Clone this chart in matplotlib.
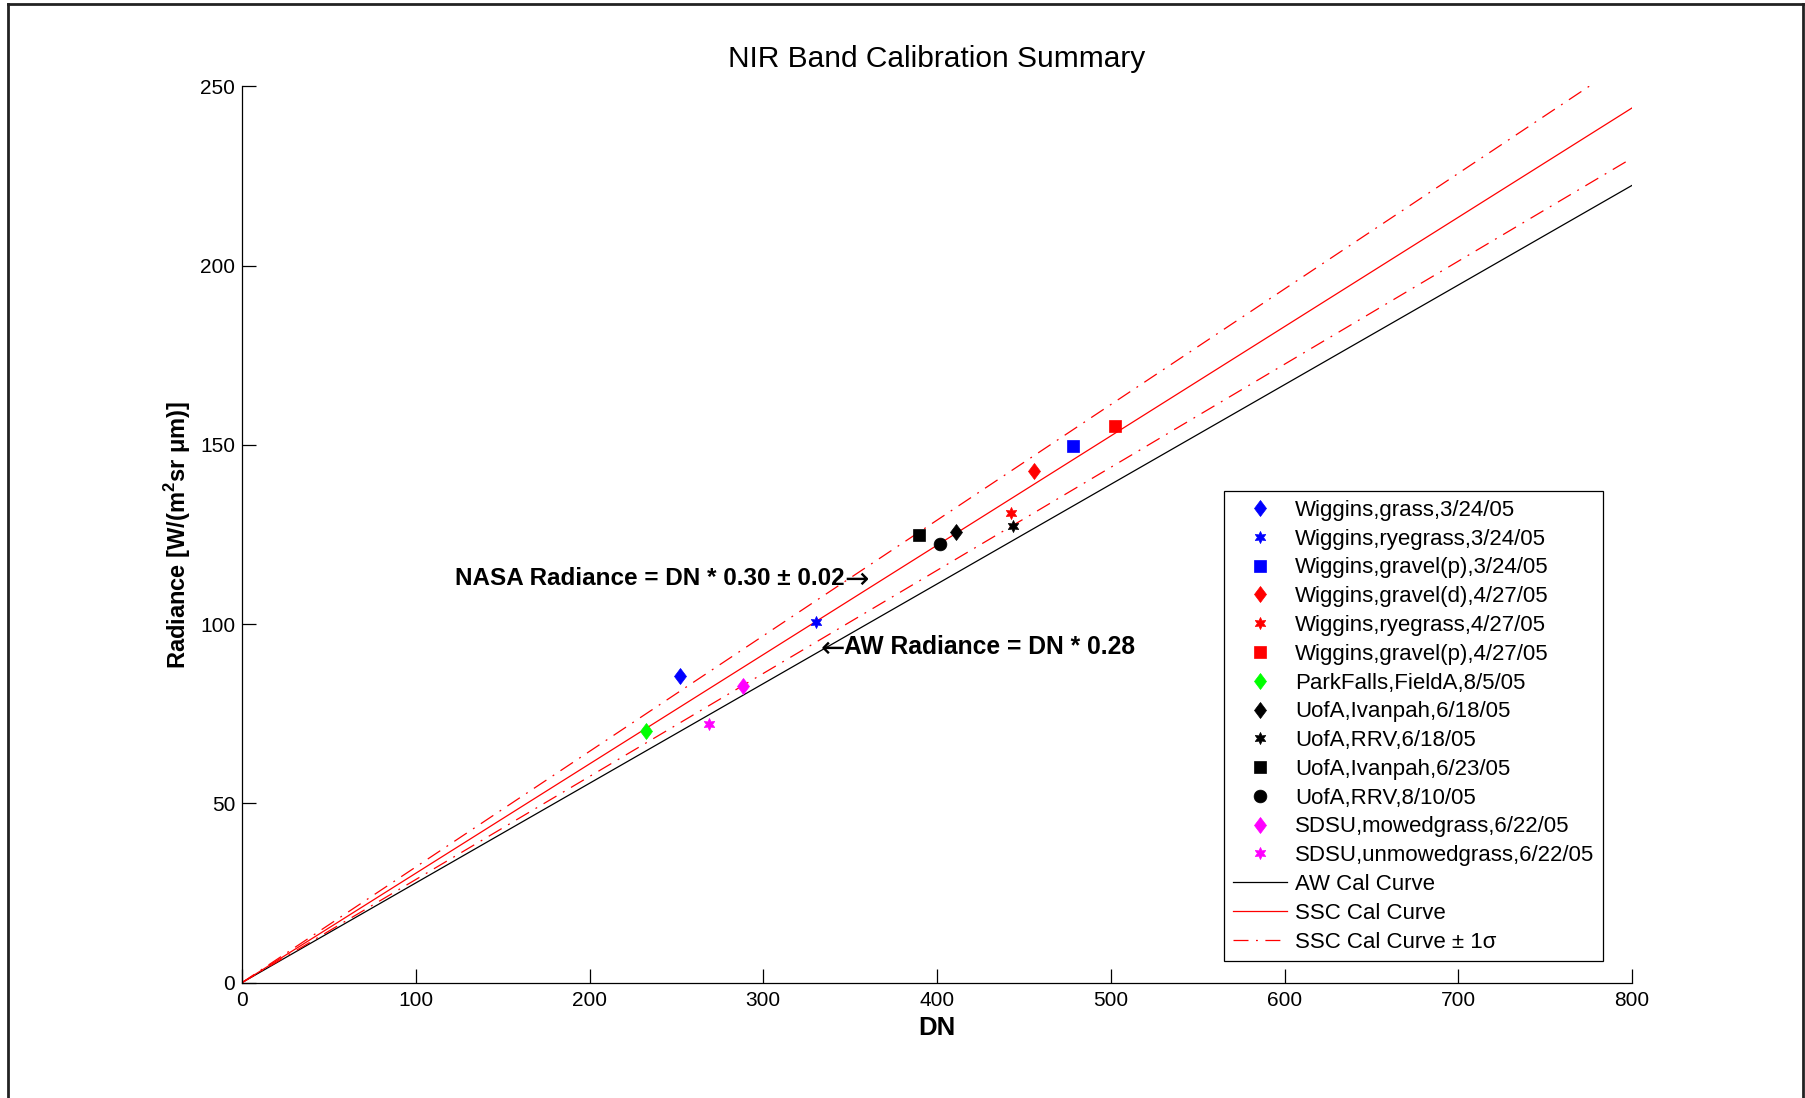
import numpy as np
import matplotlib
matplotlib.use('Agg')
import matplotlib.pyplot as plt
from matplotlib.lines import Line2D
from matplotlib.path import Path

plt.rcParams['font.family'] = ['Liberation Sans', 'DejaVu Sans']
plt.rcParams['mathtext.fontset'] = 'custom'
plt.rcParams['mathtext.rm'] = 'Liberation Sans'
plt.rcParams['mathtext.bf'] = 'Liberation Sans:bold'

# measurement points (DN, radiance)
labels = ['Wiggins,grass,3/24/05', 'Wiggins,ryegrass,3/24/05', 'Wiggins,gravel(p),3/24/05',
          'Wiggins,gravel(d),4/27/05', 'Wiggins,ryegrass,4/27/05', 'Wiggins,gravel(p),4/27/05',
          'ParkFalls,FieldA,8/5/05', 'UofA,Ivanpah,6/18/05', 'UofA,RRV,6/18/05',
          'UofA,Ivanpah,6/23/05', 'UofA,RRV,8/10/05', 'SDSU,mowedgrass,6/22/05',
          'SDSU,unmowedgrass,6/22/05']
dn = [252.1, 330.6, 478.4, 455.8, 442.4, 502.6, 232.5, 410.9, 443.6, 389.6, 401.7, 288.2, 268.6]
radiance = [85.6, 100.6, 149.7, 142.7, 130.9, 155.3, 70.3, 125.8, 127.4, 124.9, 122.3, 82.7, 72.1]

# calibration curves
dn_range = [0, 800]
aw_gain = 0.278
ssc_gain = 0.305
ssc_sigma = 0.0175

# matlab style markers
diamond = Path([(0, 1), (0.75, 0), (0, -1), (-0.75, 0), (0, 1)],
               [Path.MOVETO, Path.LINETO, Path.LINETO, Path.LINETO, Path.CLOSEPOLY])
hexagram = (6, 1, 0)
markers = ['D', 'h', 's', 'D', 'h', 's', 'D', 'D', 'h', 's', 'o', 'D', 'h']
colors = ['#0000FF', '#0000FF', '#0000FF', '#FF0000', '#FF0000', '#FF0000', '#00FF00',
          'black', 'black', 'black', 'black', '#FF00FF', '#FF00FF']
mstyle = {'D': (diamond, 11.5), 's': ('s', 9.2), 'o': ('o', 9.2), 'h': (hexagram, 8.8)}

fig = plt.figure(figsize=(18.06, 10.98), dpi=100)
ax = fig.add_axes([0.134, 0.1051, 0.7697, 0.8162])

for x, y, m, c, lab in zip(dn, radiance, markers, colors, labels):
    mk, ms = mstyle[m]
    ax.plot([x], [y], linestyle='none', marker=mk, color=c, markersize=ms,
            markeredgewidth=0.5, label=lab, zorder=3)

xs = np.array(dn_range, dtype=float)
ax.plot(xs, aw_gain * xs, color='black', linewidth=0.9, label='AW Cal Curve')
ax.plot(xs, ssc_gain * xs, color='#FF0000', linewidth=0.9, label='SSC Cal Curve')
dash = (0, (12, 6, 1.5, 6))
ax.plot(xs, (ssc_gain + ssc_sigma) * xs, color='#FF0000', linewidth=0.9, linestyle=dash,
        label='SSC Cal Curve \u00b1 1\u03c3')
ax.plot(xs, (ssc_gain - ssc_sigma) * xs, color='#FF0000', linewidth=0.9, linestyle=dash)

ax.set_xlim(0, 800)
ax.set_ylim(0, 250)
ax.set_xticks(np.arange(0, 801, 100))
ax.set_yticks(np.arange(0, 251, 50))
ax.spines['top'].set_visible(False)
ax.spines['right'].set_visible(False)
for s in ['left', 'bottom']:
    ax.spines[s].set_linewidth(0.9)
ax.tick_params(direction='in', length=10, width=0.9, labelsize=15)
ax.tick_params(axis='y', pad=5)
ax.tick_params(axis='x', pad=6)

ax.set_title('NIR Band Calibration Summary', fontsize=21.5, pad=14)
ax.set_xlabel('DN', fontsize=18.5, fontweight='bold')
ax.set_ylabel('Radiance [W/(m$^{\\mathbf{2}}$sr \u03bcm)]', fontsize=17, fontweight='bold')
ax.xaxis.set_label_coords(0.5, -0.037)
ax.yaxis.set_label_coords(-0.035, 0.5)

# annotations with long thin arrows
nasa = ax.text(122.6, 112.6, 'NASA Radiance = DN * 0.30 \u00b1 0.02', fontsize=17.5,
               fontweight='bold', va='center', ha='left')
ax.annotate('\u2192', xy=(1, 0.45), xycoords=nasa, va='center', ha='left',
            fontsize=21, family='DejaVu Sans')
aw_arrow = ax.text(332.7, 93.2, '\u2190', fontsize=21, family='DejaVu Sans',
                   va='center', ha='left')
ax.annotate('AW Radiance = DN * 0.28', xy=(1, 0.55), xycoords=aw_arrow, va='center',
            ha='left', fontsize=17.7, fontweight='bold')

leg = ax.legend(loc='upper left', bbox_to_anchor=(0.7065, 0.5486), fontsize=16,
                numpoints=1, fancybox=False, edgecolor='black', framealpha=1,
                borderpad=0.4, labelspacing=0.35, handlelength=2.45, handletextpad=0.35,
                borderaxespad=0)
leg.get_frame().set_linewidth(0.9)

# outer figure frame
W, H = 1806, 1098
fr = dict(color='#222222', linewidth=2, transform=fig.transFigure)
fig.add_artist(Line2D([8 / W, 8 / W], [0, 1 - 4 / H], **fr))
fig.add_artist(Line2D([8 / W, 1803 / W], [1 - 4 / H, 1 - 4 / H], **fr))
fig.add_artist(Line2D([1803 / W, 1803 / W], [0, 1 - 4 / H], **fr))

plt.savefig('out.png', dpi=100)
plt.close()
